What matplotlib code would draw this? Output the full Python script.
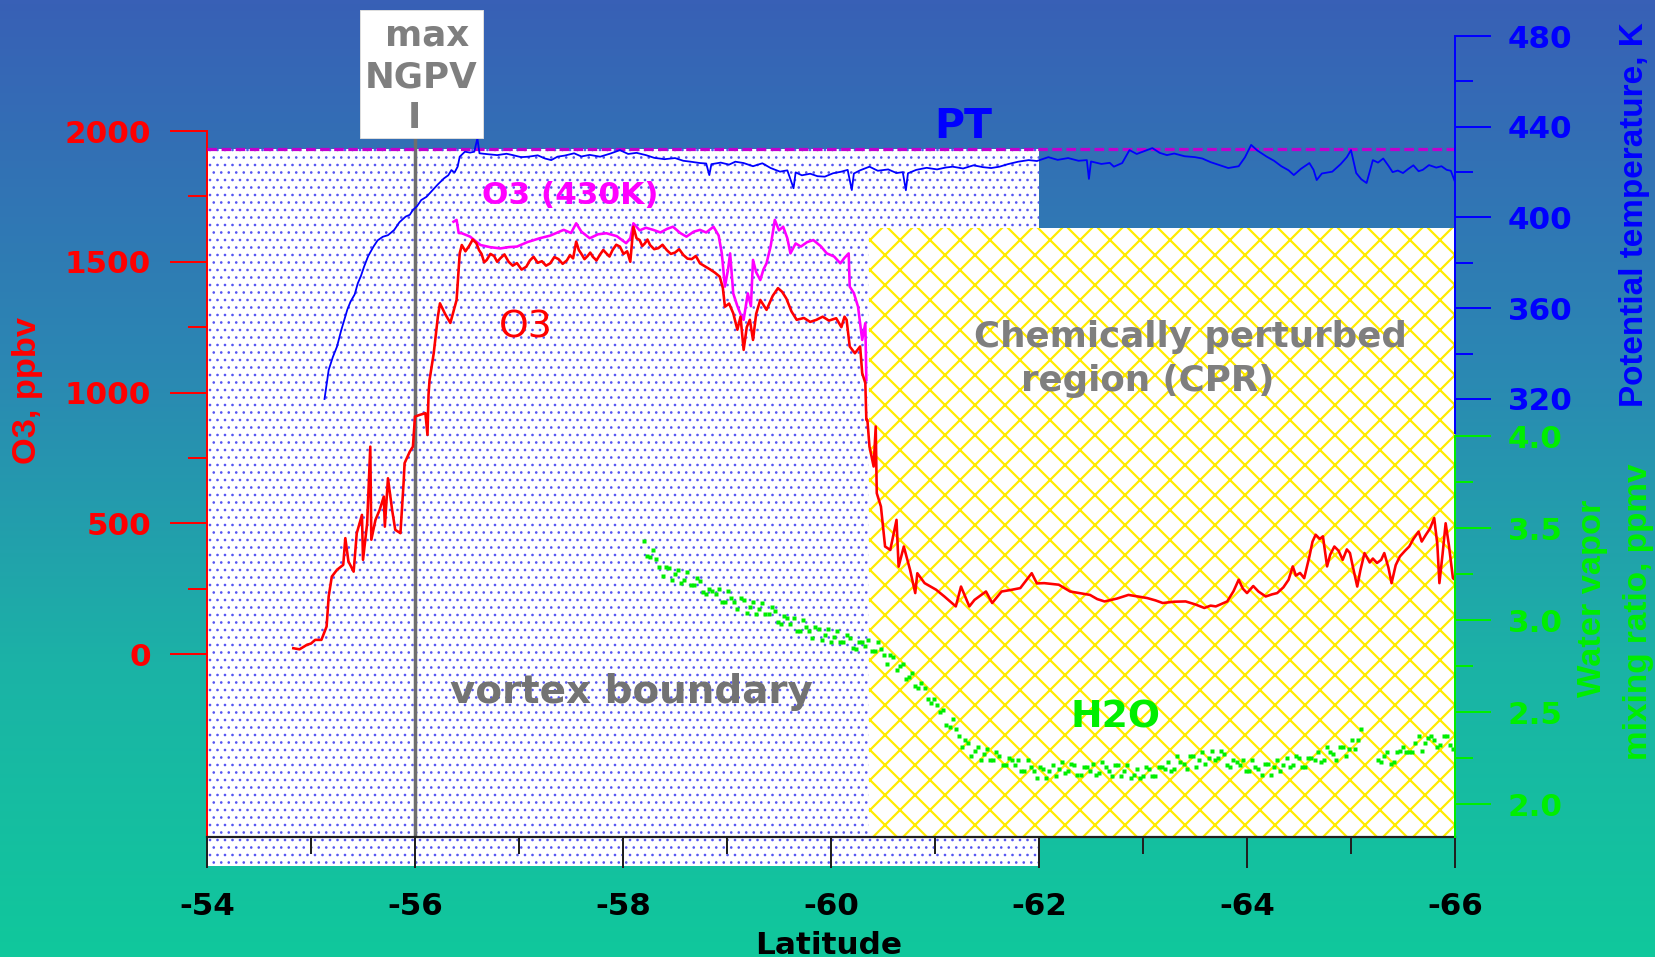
import matplotlib
matplotlib.use("Agg")
import matplotlib.pyplot as plt
import matplotlib.transforms as mtransforms
from matplotlib.patches import Rectangle
from matplotlib.colors import LinearSegmentedColormap
import numpy as np

W, H, DPI = 1655, 957, 90

# ---- data ----
pt_lat = [-55.13, -55.17, -55.21, -55.25, -55.29, -55.32, -55.35, -55.38, -55.42, -55.45,
          -55.48, -55.51, -55.55, -55.60, -55.64, -55.69, -55.74, -55.80, -55.85, -55.91,
          -55.95, -55.98, -56.02, -56.06, -56.11, -56.17, -56.22, -56.28, -56.32, -56.35,
          -56.38, -56.41, -56.43, -56.48, -56.53, -56.57, -56.60, -56.62, -56.70, -56.79,
          -56.88, -56.94, -57.02, -57.09, -57.18, -57.25, -57.31, -57.37, -57.44, -57.53,
          -57.60, -57.68, -57.78, -57.88, -57.97, -58.05, -58.13, -58.22, -58.30, -58.40,
          -58.50, -58.58, -58.65, -58.74, -58.80, -58.83, -58.85, -58.94, -59.02, -59.08,
          -59.16, -59.25, -59.34, -59.42, -59.51, -59.58, -59.64, -59.66, -59.72, -59.80,
          -59.87, -59.94, -60.02, -60.10, -60.16, -60.20, -60.22, -60.28, -60.37, -60.45,
          -60.55, -60.63, -60.69, -60.72, -60.74, -60.82, -60.92, -61.02, -61.10, -61.17,
          -61.27, -61.37, -61.46, -61.54, -61.62, -61.70, -61.80, -61.90, -61.98, -62.05,
          -62.09, -62.18, -62.28, -62.38, -62.46, -62.48, -62.50, -62.60, -62.68, -62.72,
          -62.80, -62.87, -62.94, -63.02, -63.09, -63.16, -63.23, -63.30, -63.40, -63.50,
          -63.57, -63.65, -63.73, -63.82, -63.92, -63.98, -64.04, -64.10, -64.19, -64.26,
          -64.33, -64.40, -64.45, -64.52, -64.60, -64.64, -64.67, -64.72, -64.82, -64.90,
          -64.96, -65.00, -65.05, -65.10, -65.15, -65.21, -65.26, -65.31, -65.36, -65.40,
          -65.45, -65.50, -65.55, -65.60, -65.65, -65.69, -65.75, -65.82, -65.87, -65.92,
          -65.96, -66.00]
pt_k = [320.0, 332.8, 338.5, 343.1, 350.2, 354.8, 359.5, 362.9, 366.1, 371.0,
        374.2, 378.3, 383.0, 387.1, 389.9, 391.5, 392.2, 394.5, 397.9, 400.4,
        401.2, 403.3, 405.0, 407.7, 409.1, 412.1, 414.6, 417.3, 418.6, 420.9,
        419.8, 422.4, 426.8, 429.0, 428.6, 429.0, 434.9, 428.3, 427.9, 427.5,
        428.1, 427.5, 426.6, 426.8, 427.4, 426.0, 425.3, 426.8, 427.3, 428.3,
        426.9, 427.6, 426.8, 428.2, 429.7, 428.0, 428.5, 427.5, 426.3, 425.7,
        426.2, 425.0, 424.6, 424.0, 423.8, 418.7, 423.5, 424.2, 423.3, 424.6,
        424.0, 422.6, 423.9, 421.8, 420.2, 420.8, 412.9, 419.9, 418.6, 419.3,
        418.2, 418.0, 419.5, 420.2, 421.0, 412.1, 419.4, 420.8, 422.4, 420.6,
        421.2, 419.6, 420.0, 412.0, 419.5, 421.0, 421.9, 421.2, 422.0, 422.4,
        421.6, 423.0, 422.2, 421.8, 422.4, 423.5, 424.6, 425.3, 424.9, 426.0,
        426.6, 425.4, 426.2, 425.0, 425.3, 417.0, 424.7, 423.6, 424.1, 422.4,
        424.0, 429.7, 428.0, 429.4, 430.6, 428.5, 427.5, 428.2, 427.0, 426.6,
        426.0, 424.4, 423.2, 421.8, 422.6, 426.5, 432.0, 429.5, 426.8, 425.0,
        422.6, 420.8, 418.7, 421.5, 424.0, 421.0, 416.5, 419.4, 420.2, 423.5,
        426.6, 429.7, 419.6, 416.8, 415.2, 425.3, 424.2, 426.0, 422.8, 420.0,
        420.7, 419.6, 421.4, 423.0, 420.4, 421.0, 423.1, 422.0, 422.6, 421.0,
        420.6, 415.7]

# ozone: rise, vortex plateau, drop and CPR part
o3_lat_rise = [-54.83, -54.89, -54.96, -55.00, -55.04, -55.10, -55.15, -55.17, -55.20, -55.25,
               -55.31, -55.33, -55.36, -55.41, -55.44, -55.49, -55.50, -55.54, -55.57, -55.58,
               -55.62, -55.66, -55.70, -55.71, -55.74, -55.78, -55.81, -55.86, -55.89, -55.90,
               -55.95, -55.98, -56.00, -56.05, -56.10, -56.12, -56.13, -56.14, -56.18, -56.22,
               -56.24, -56.29, -56.34, -56.40, -56.43]
o3_ppbv_rise = [22, 18, 35, 40, 54, 54, 105, 220, 296, 322,
                341, 443, 354, 315, 462, 532, 360, 500, 793, 437,
                513, 551, 602, 487, 672, 551, 475, 462, 653, 730,
                774, 793, 908, 915, 921, 838, 991, 1048, 1150, 1290,
                1341, 1300, 1266, 1354, 1532]
o3_lat_plateau = [-56.45, -56.485, -56.52, -56.555, -56.59, -56.615, -56.64, -56.665, -56.69, -56.725,
                  -56.76, -56.79, -56.82, -56.86, -56.90, -56.94, -56.98, -57.025, -57.07, -57.105,
                  -57.14, -57.18, -57.22, -57.26, -57.30, -57.34, -57.38, -57.42, -57.46, -57.49,
                  -57.52, -57.55, -57.575, -57.60, -57.63, -57.66, -57.685, -57.71, -57.745, -57.78,
                  -57.81, -57.84, -57.87, -57.90, -57.935, -57.97, -58.005, -58.04, -58.07, -58.10,
                  -58.13, -58.16, -58.185, -58.21, -58.235, -58.26, -58.30, -58.34, -58.38, -58.42,
                  -58.46, -58.50, -58.54, -58.58, -58.62, -58.66, -58.70, -58.74, -58.79, -58.84,
                  -58.885, -58.93]
o3_ppbv_plateau = [1564, 1540, 1560, 1585, 1571, 1545, 1530, 1498, 1507, 1530,
                   1522, 1500, 1513, 1528, 1500, 1485, 1495, 1470, 1481, 1505,
                   1519, 1496, 1502, 1485, 1494, 1518, 1510, 1492, 1505, 1525,
                   1513, 1577, 1545, 1530, 1510, 1522, 1535, 1519, 1505, 1528,
                   1545, 1532, 1520, 1545, 1565, 1558, 1530, 1540, 1500, 1634,
                   1590, 1583, 1560, 1570, 1585, 1564, 1548, 1552, 1565, 1545,
                   1530, 1535, 1548, 1526, 1512, 1510, 1522, 1494, 1482, 1470,
                   1458, 1443]
o3_lat_rest = [-58.96, -58.98, -59.02, -59.06, -59.10, -59.13, -59.16,
               -59.19, -59.22, -59.25, -59.28, -59.32, -59.38, -59.44, -59.49, -59.53, -59.57,
               -59.62, -59.67, -59.74, -59.80, -59.86, -59.92, -59.98, -60.05, -60.10, -60.13,
               -60.15, -60.18, -60.23, -60.28, -60.30, -60.33, -60.34, -60.35, -60.37, -60.41,
               -60.43, -60.44, -60.48, -60.52, -60.57, -60.63, -60.65, -60.70, -60.76, -60.81,
               -60.83, -60.90, -61.01, -61.09, -61.20, -61.25, -61.33, -61.38, -61.49, -61.55,
               -61.64, -61.73, -61.82, -61.93, -61.98, -62.05, -62.19, -62.30, -62.40, -62.49,
               -62.56, -62.63, -62.75, -62.86, -62.95, -63.04, -63.12, -63.19, -63.30, -63.41,
               -63.50, -63.59, -63.65, -63.70, -63.81, -63.87, -63.92, -63.96, -64.00, -64.06,
               -64.11, -64.18, -64.24, -64.29, -64.35, -64.40, -64.44, -64.47, -64.51, -64.55,
               -64.60, -64.63, -64.66, -64.70, -64.73, -64.77, -64.80, -64.84, -64.88, -64.92,
               -64.96, -64.99, -65.02, -65.06, -65.09, -65.13, -65.18, -65.21, -65.25, -65.29,
               -65.32, -65.36, -65.39, -65.43, -65.47, -65.52, -65.56, -65.60, -65.65, -65.68,
               -65.72, -65.76, -65.80, -65.83, -65.85, -65.88, -65.91, -65.94, -65.98, -66.00]
o3_ppbv_rest = [1400, 1328, 1340, 1303, 1240, 1290, 1163,
                1250, 1278, 1201, 1300, 1354, 1316, 1370, 1399, 1385, 1360,
                1310, 1278, 1285, 1270, 1278, 1290, 1275, 1284, 1250, 1290,
                1278, 1176, 1150, 1176, 1074, 1036, 895, 895, 793, 717,
                870, 615, 564, 411, 398, 513, 334, 411, 322, 233,
                309, 271, 246, 220, 182, 258, 182, 207, 239, 195,
                239, 245, 252, 309, 270, 271, 265, 239, 232, 226,
                210, 201, 212, 226, 220, 214, 205, 195, 200, 201,
                190, 176, 185, 182, 201, 240, 284, 250, 233, 260,
                239, 220, 228, 233, 255, 284, 335, 300, 310, 290,
                373, 430, 456, 440, 450, 335, 380, 411, 395, 360,
                400, 386, 330, 258, 320, 386, 350, 365, 348, 360,
                386, 330, 271, 340, 373, 395, 411, 440, 468, 430,
                456, 480, 520, 420, 271, 380, 500, 420, 290, 284]

o3_430_lat = [-56.37, -56.40, -56.42, -56.45, -56.53, -56.58, -56.63, -56.72, -56.82, -56.90,
              -56.98, -57.08, -57.20, -57.30, -57.43, -57.50, -57.55, -57.60, -57.68, -57.76,
              -57.84, -57.94, -58.03, -58.07, -58.10, -58.16, -58.22, -58.29, -58.36, -58.42,
              -58.48, -58.55, -58.61, -58.68, -58.74, -58.80, -58.87, -58.92, -58.95, -58.98,
              -59.01, -59.03, -59.06, -59.10, -59.13, -59.16, -59.20, -59.23, -59.25, -59.28,
              -59.32, -59.35, -59.38, -59.42, -59.46, -59.50, -59.54, -59.58, -59.61, -59.66,
              -59.71, -59.77, -59.83, -59.90, -59.96, -60.03, -60.09, -60.13, -60.17, -60.18,
              -60.22, -60.26, -60.30, -60.33, -60.34]
o3_430_ppbv = [1653, 1660, 1610, 1609, 1596, 1580, 1564, 1556, 1551, 1556,
               1558, 1575, 1590, 1600, 1622, 1610, 1647, 1615, 1590, 1605,
               1609, 1598, 1571, 1590, 1647, 1620, 1630, 1622, 1612, 1625,
               1634, 1610, 1596, 1615, 1622, 1612, 1634, 1600, 1532, 1405,
               1470, 1532, 1379, 1330, 1300, 1278, 1379, 1330, 1507, 1460,
               1430, 1470, 1494, 1560, 1660, 1620, 1634, 1590, 1532, 1570,
               1558, 1575, 1583, 1560, 1532, 1520, 1494, 1515, 1532, 1405,
               1380, 1328, 1201, 1265, 1048]

# water vapour, two interleaved sets of readings
h2o_lat = [-58.20, -58.26, -58.32, -58.38, -58.44, -58.50, -58.56, -58.62, -58.68, -58.74,
           -58.80, -58.86, -58.92, -58.98, -59.04, -59.10, -59.16, -59.22, -59.28, -59.34,
           -59.40, -59.46, -59.52, -59.58, -59.64, -59.70, -59.76, -59.82, -59.88, -59.94,
           -60.00, -60.06, -60.12, -60.18, -60.24, -60.30, -60.36, -60.42,
           -60.48, -60.54, -60.60, -60.66, -60.72, -60.78, -60.84, -60.90, -60.96, -61.02,
           -61.08, -61.14, -61.20, -61.26, -61.32, -61.38, -61.44, -61.50,
           -61.56, -61.62, -61.68, -61.74, -61.80, -61.86, -61.92, -61.98, -62.04, -62.10,
           -62.16, -62.22, -62.28, -62.34, -62.40, -62.46, -62.52, -62.58, -62.64, -62.70,
           -62.76, -62.82, -62.88, -62.94, -63.00, -63.06, -63.12, -63.18, -63.24, -63.30,
           -63.36, -63.42, -63.48, -63.54, -63.60, -63.66, -63.72, -63.78, -63.84, -63.90,
           -63.96, -64.02, -64.08, -64.14, -64.20, -64.26, -64.32, -64.38, -64.44, -64.50,
           -64.56, -64.62, -64.68, -64.74, -64.80, -64.86, -64.92, -64.98, -65.04, -65.10,
           -65.26, -65.32, -65.38, -65.44, -65.50, -65.56, -65.62, -65.68, -65.74, -65.80,
           -65.86, -65.92, -65.98]
h2o_ppmv = [3.43, 3.34, 3.33, 3.24, 3.28, 3.25, 3.20, 3.26, 3.19, 3.21,
            3.14, 3.16, 3.17, 3.10, 3.12, 3.06, 3.11, 3.07, 3.03, 3.09,
            3.03, 3.05, 2.98, 3.01, 3.01, 2.94, 2.96, 2.90, 2.95, 2.92,
            2.88, 2.94, 2.88, 2.90, 2.84, 2.88, 2.89, 2.83,
            2.84, 2.76, 2.80, 2.75, 2.68, 2.71, 2.63, 2.63, 2.55, 2.54,
            2.51, 2.42, 2.41, 2.31, 2.33, 2.29, 2.24, 2.30,
            2.24, 2.26, 2.21, 2.24, 2.24, 2.18, 2.20, 2.14, 2.19, 2.18,
            2.15, 2.23, 2.18, 2.21, 2.16, 2.20, 2.22, 2.17, 2.20, 2.15,
            2.21, 2.18, 2.14, 2.19, 2.15, 2.19, 2.15, 2.20, 2.23, 2.19,
            2.23, 2.19, 2.26, 2.24, 2.22, 2.29, 2.25, 2.27, 2.20, 2.23,
            2.24, 2.18, 2.20, 2.16, 2.22, 2.20, 2.18, 2.25, 2.21, 2.25,
            2.20, 2.25, 2.28, 2.24, 2.28, 2.24, 2.31, 2.30, 2.30, 2.41,
            2.24, 2.26, 2.22, 2.28, 2.31, 2.28, 2.33, 2.29, 2.36, 2.35,
            2.32, 2.37, 2.30]
h2o_lat2 = [-58.23, -58.29, -58.35, -58.41, -58.47, -58.53, -58.59, -58.65, -58.71, -58.77,
            -58.83, -58.89, -58.95, -59.01, -59.07, -59.13, -59.19, -59.25, -59.31, -59.37,
            -59.43, -59.49, -59.55, -59.61, -59.67, -59.73, -59.79, -59.85, -59.91, -59.97,
            -60.03, -60.09, -60.15, -60.21, -60.27, -60.33, -60.39,
            -60.45, -60.51, -60.57, -60.63, -60.69, -60.75, -60.81, -60.87, -60.93, -60.99,
            -61.05, -61.11, -61.17, -61.23, -61.29, -61.35, -61.41, -61.47, -61.53,
            -61.59, -61.65, -61.71, -61.77, -61.83, -61.89, -61.95, -62.01, -62.07, -62.13,
            -62.19, -62.25, -62.31, -62.37, -62.43, -62.49, -62.55, -62.61, -62.67, -62.73,
            -62.79, -62.85, -62.91, -62.97, -63.03, -63.09, -63.15, -63.21, -63.27, -63.33,
            -63.39, -63.45, -63.51, -63.57, -63.63, -63.69, -63.75, -63.81, -63.87, -63.93,
            -63.99, -64.05, -64.11, -64.17, -64.23, -64.29, -64.35, -64.41, -64.47, -64.53,
            -64.59, -64.65, -64.71, -64.77, -64.83, -64.89, -64.95, -65.01, -65.07,
            -65.29, -65.35, -65.41, -65.47, -65.53, -65.59, -65.65, -65.71, -65.77, -65.83,
            -65.89, -65.95]
h2o_ppmv2 = [3.35, 3.38, 3.29, 3.29, 3.22, 3.27, 3.22, 3.19, 3.23, 3.15,
             3.17, 3.14, 3.10, 3.16, 3.10, 3.12, 3.04, 3.10, 3.06, 3.03,
             3.07, 2.99, 3.02, 2.98, 2.94, 3.00, 2.94, 2.96, 2.89, 2.95,
             2.91, 2.88, 2.92, 2.85, 2.88, 2.86, 2.83,
             2.88, 2.81, 2.81, 2.73, 2.76, 2.69, 2.64, 2.66, 2.57, 2.57,
             2.50, 2.43, 2.46, 2.37, 2.35, 2.26, 2.31, 2.27, 2.24,
             2.28, 2.21, 2.25, 2.21, 2.18, 2.24, 2.18, 2.20, 2.14, 2.21,
             2.19, 2.17, 2.22, 2.16, 2.20, 2.18, 2.16, 2.23, 2.18, 2.21,
             2.15, 2.21, 2.16, 2.14, 2.20, 2.15, 2.20, 2.19, 2.18, 2.26,
             2.22, 2.26, 2.20, 2.28, 2.25, 2.24, 2.29, 2.21, 2.24, 2.21,
             2.18, 2.24, 2.19, 2.22, 2.16, 2.24, 2.21, 2.20, 2.26, 2.20,
             2.25, 2.24, 2.23, 2.31, 2.27, 2.31, 2.26, 2.35, 2.35,
             2.23, 2.28, 2.23, 2.29, 2.28, 2.28, 2.37, 2.33, 2.37, 2.31,
             2.37, 2.32]

lat_ticks = [-54, -56, -58, -60, -62, -64, -66]
lat_minor = [-55, -57, -59, -61, -63, -65]
o3_ticks = [0, 500, 1000, 1500, 2000]
o3_minor = [250, 750, 1250, 1750]
pt_ticks = [320, 360, 400, 440, 480]
pt_minor = [340, 380, 420, 460]
w_ticks = [2.0, 2.5, 3.0, 3.5, 4.0]
w_minor = [2.25, 2.75, 3.25, 3.75]

vortex_edge = -62.0    # right end of the dotted vortex area
cpr_edge = -60.37      # left end of the chemically perturbed region
ngpv_lat = -56.0
pt_ref = 430           # dashed isentrope

RED, BLUE, MAG, GREEN = "#ff0000", "#0000ff", "#ff00ff", "#00ee00"
GRAY = "#7f7f7f"


def pt(px):
    # pixel size -> points at this dpi
    return px * 72.0 / DPI


def fx(px):
    return px / W


def fy(py):
    return 1 - py / H


plt.rcParams["font.family"] = "DejaVu Sans"
plt.rcParams["font.weight"] = "bold"
plt.rcParams["axes.unicode_minus"] = False
plt.rcParams["hatch.linewidth"] = pt(2.2)

fig = plt.figure(figsize=(W / DPI, H / DPI), dpi=DPI)

# gradient background
bg = fig.add_axes([0, 0, 1, 1], zorder=-10)
bg.axis("off")
cmap = LinearSegmentedColormap.from_list(
    "bg", [(0.0, "#10c89c"), (0.3, "#1bb3a6"), (0.62, "#2b87b3"), (1.0, "#3860b6")])
bg.imshow(np.linspace(1, 0, 256).reshape(-1, 1), cmap=cmap, aspect="auto",
          extent=[0, 1, 0, 1], origin="upper")

ax = fig.add_axes([fx(207), fy(837), 1248 / W, 801 / H])
ax.set_facecolor("none")
ax.set_xlim(-54, -66)
ax.set_ylim(-699.8, 2363.3)

trans = mtransforms.blended_transform_factory(ax.transData, ax.transAxes)

dots = Rectangle((-54, -0.0362), vortex_edge + 54, 0.8951, transform=trans,
                 facecolor="white", edgecolor="#5454f2", hatch="..", linewidth=0,
                 clip_on=False, zorder=0)
ax.add_patch(dots)
if hasattr(dots, "set_hatch_linewidth"):
    dots.set_hatch_linewidth(pt(1.1))

cpr = Rectangle((cpr_edge, 0), -66 - cpr_edge, 0.7603, transform=trans,
                facecolor="white", edgecolor="#ffec00", hatch="x", linewidth=0,
                clip_on=False, zorder=1)
ax.add_patch(cpr)

ax.plot([ngpv_lat, ngpv_lat], [0, 0.8727], transform=trans, color="#6e6e6e",
        lw=pt(3.5), zorder=2, solid_capstyle="butt")

ax.plot(o3_430_lat, o3_430_ppbv, color=MAG, lw=pt(2.6), zorder=3)
ax.plot(o3_lat_rise + o3_lat_plateau + o3_lat_rest,
        o3_ppbv_rise + o3_ppbv_plateau + o3_ppbv_rest, color=RED, lw=pt(2.6), zorder=3)

for s in ["top", "right"]:
    ax.spines[s].set_visible(False)
ax.spines["left"].set_color(RED)
ax.spines["left"].set_linewidth(pt(2))
ax.spines["left"].set_bounds(-699.8, 2000)
ax.spines["bottom"].set_color("#202020")
ax.spines["bottom"].set_linewidth(pt(2.2))
ax.spines["bottom"].set_bounds(-66, -54)

ax.set_yticks(o3_ticks, [str(v) for v in o3_ticks])
ax.set_yticks(o3_minor, minor=True)
ax.tick_params(axis="y", which="major", direction="out", length=pt(37), width=pt(2),
               colors=RED, pad=pt(19), labelsize=pt(31))
ax.tick_params(axis="y", which="minor", direction="out", length=pt(19), width=pt(2),
               colors=RED)

ax.set_xticks(lat_ticks, [str(v) for v in lat_ticks])
ax.set_xticks(lat_minor, minor=True)
ax.tick_params(axis="x", which="major", direction="out", length=pt(31), width=pt(2),
               color="#202020", labelcolor="black", pad=pt(24), labelsize=pt(31))
ax.tick_params(axis="x", which="minor", direction="out", length=pt(17), width=pt(2),
               color="#202020")

# potential temperature axis
ax_pt = ax.twinx()
ax_pt.set_ylim(126.94, 480)
ax_pt.axhline(pt_ref, color="#c000cc", lw=pt(3.2), dashes=(3.0, 1.4), zorder=2)
ax_pt.plot(pt_lat, pt_k, color=BLUE, lw=pt(1.8), zorder=3)
for s in ["top", "left", "bottom"]:
    ax_pt.spines[s].set_visible(False)
ax_pt.spines["right"].set_color(BLUE)
ax_pt.spines["right"].set_linewidth(pt(2))
ax_pt.spines["right"].set_bounds(305, 480)
ax_pt.set_yticks(pt_ticks, [str(v) for v in pt_ticks])
ax_pt.set_yticks(pt_minor, minor=True)
ax_pt.tick_params(axis="y", which="major", direction="out", length=pt(36), width=pt(2),
                  colors=BLUE, pad=pt(17), labelsize=pt(31))
ax_pt.tick_params(axis="y", which="minor", direction="out", length=pt(18), width=pt(2),
                  colors=BLUE)

# water vapour axis
ax_w = ax.twinx()
ax_w.set_ylim(1.8207, 6.1739)
for la, va in [(h2o_lat, h2o_ppmv), (h2o_lat2, h2o_ppmv2)]:
    ax_w.plot(la, va, ls="none", marker="s", ms=pt(4.2), color=GREEN, mec="none", zorder=3)
for s in ["top", "left", "bottom"]:
    ax_w.spines[s].set_visible(False)
ax_w.spines["right"].set_color(GREEN)
ax_w.spines["right"].set_linewidth(pt(2))
ax_w.spines["right"].set_bounds(1.8207, 4.0)
ax_w.set_yticks(w_ticks, ["%.1f" % v for v in w_ticks])
ax_w.set_yticks(w_minor, minor=True)
ax_w.tick_params(axis="y", which="major", direction="out", length=pt(36), width=pt(2),
                 colors=GREEN, pad=pt(17), labelsize=pt(31))
ax_w.tick_params(axis="y", which="minor", direction="out", length=pt(18), width=pt(2),
                 colors=GREEN)

# max NGPV box
fig.add_artist(Rectangle((fx(360), fy(138)), 123 / W, 128 / H, transform=fig.transFigure,
                         facecolor="white", edgecolor="#dddddd", lw=0.8, zorder=1))
fig.text(fx(427), fy(45), "max", color=GRAY, fontsize=pt(35.6), ha="center", va="baseline")
fig.text(fx(421), fy(87), "NGPV", color=GRAY, fontsize=pt(35.6), ha="center", va="baseline")
fig.text(fx(414), fy(128), "I", color=GRAY, fontsize=pt(35.6), ha="center", va="baseline")

# annotations
fig.text(fx(963), fy(138), "PT", color=BLUE, fontsize=pt(41), ha="center", va="baseline")
fig.text(fx(570), fy(204), "O3 (430K)", color=MAG, fontsize=pt(31.1), ha="center",
         va="baseline")
fig.text(fx(526), fy(338), "O3", color=RED, fontsize=pt(37.8), fontweight="normal",
         ha="center", va="baseline")
fig.text(fx(1190), fy(347), "Chemically perturbed", color=GRAY, fontsize=pt(35.6),
         ha="center", va="baseline")
fig.text(fx(1148), fy(391), "region (CPR)", color=GRAY, fontsize=pt(35.6),
         ha="center", va="baseline")
fig.text(fx(631), fy(703), "vortex boundary", color="#737373", fontsize=pt(38.9),
         ha="center", va="baseline")
fig.text(fx(1115), fy(727), "H2O", color=GREEN, fontsize=pt(37.8), ha="center",
         va="baseline")

# axis titles
LAB = ["Liberation Sans", "DejaVu Sans"]
fig.text(fx(28), fy(390), "O3, ppbv", color=RED, fontsize=pt(34.4), family=LAB,
         rotation=90, ha="center", va="center")
fig.text(fx(1635), fy(215), "Potential temperature, K", color=BLUE, fontsize=pt(33.3),
         family=LAB, rotation=90, ha="center", va="center")
fig.text(fx(1592), fy(598), "Water vapor", color=GREEN, fontsize=pt(34.4), family=LAB,
         rotation=90, ha="center", va="center")
fig.text(fx(1638), fy(612), "mixing ratio, ppmv", color=GREEN, fontsize=pt(33.3),
         family=LAB, rotation=90, ha="center", va="center")
fig.text(fx(829), fy(954), "Latitude", color="black", fontsize=pt(31.1),
         ha="center", va="baseline")

fig.savefig("out.png", dpi=DPI)
